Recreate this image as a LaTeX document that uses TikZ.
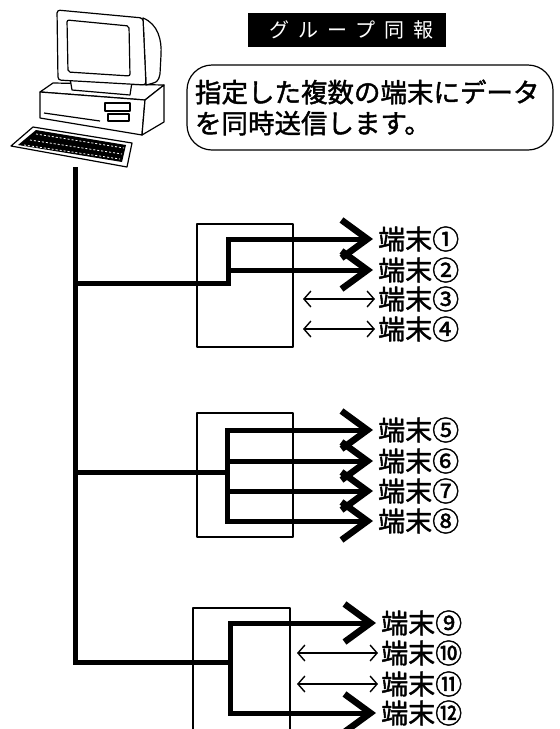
\documentclass[tikz,border=0pt]{standalone}
\usepackage{fontspec}
\setmainfont{Noto Sans CJK JP}[AutoFakeBold=1.6]
\usetikzlibrary{arrows.meta}

\begin{document}
\begin{tikzpicture}[x=1pt, y=-1pt, line join=round]
\tikzstyle{ink}=[line width=1.2pt]
\tikzstyle{frame}=[line width=1.4pt]
\tikzstyle{bus}=[line width=5pt]
\tikzstyle{send}=[bus, line join=miter, shorten >=4pt, -{Straight Barb[length=26pt, width=38pt, line width=6.5pt]}]
\tikzstyle{duplex}=[line width=1.4pt, shorten >=2pt, {Straight Barb[length=7pt, width=16pt]}-{Straight Barb[length=7pt, width=16pt]}]
\tikzstyle{term}=[anchor=west, inner sep=1pt, font=\fontsize{27}{29}\selectfont\bfseries]
\useasboundingbox (0,0) rectangle (560,729);

% computer: base unit, monitor, keyboard
\draw[ink, fill=white] (40,92) -- (53,83) -- (164,85) -- (145,100) -- cycle;
\draw[ink, fill=white] (40,92) -- (145,100) -- (142,135) -- (40,118) -- cycle;
\draw[ink, fill=white] (145,100) -- (164,85) -- (164,122) -- (142,135) -- cycle;
\draw[ink] (105,103) rectangle (130,111);
\draw[ink] (108,114) rectangle (129,121);
\draw[ink] (44,113) -- (100,121);
\draw[ink, fill=white] (70,78) -- (72,90) -- (130,95) -- (132,82);
\draw[ink, fill=white] (143,18) .. controls (158,24) and (162,40) .. (161,55)
  -- (160,74) .. controls (158,82) .. (146,85) -- cycle;
\draw[ink, fill=white, rounded corners=3pt] (57,10) -- (143,18) -- (146,85) -- (58,80) -- cycle;
\draw[ink, rounded corners=2pt] (67,20) -- (129,26) -- (130,76) -- (68,72) -- cycle;
\draw[ink, fill=white] (11,146) -- (33,127) -- (132,143) -- (127,167) -- cycle;
\fill (18,145) -- (36,130) -- (126,145) -- (122,162) -- cycle;
\draw[white, line width=0.8pt, dash pattern=on 2pt off 2pt] (30,140) -- (122,154);
\draw[white, line width=0.8pt, dash pattern=on 2pt off 2pt] (24,145) -- (120,159);
\draw[white, line width=0.8pt, dash pattern=on 2pt off 2pt] (36,134) -- (124,148);

% heading and note
\node[fill=black, text=white, minimum width=198pt, minimum height=34pt, inner sep=0pt] (title) at (347,29.5)
  {\fontsize{20}{22}\selectfont\addfontfeatures{LetterSpace=45}\kern9pt グループ同報};
\node[draw, ink, rounded corners=25pt, minimum width=366pt, minimum height=85pt, text width=350pt, align=left, inner xsep=8pt, inner ysep=3pt, font=\fontsize{26.5}{31}\selectfont\bfseries] (note) at (370,107.5) {指定した複数の端末にデータ\\を同時送信します。};

% exchange frames
\draw[frame] (197,224) rectangle (293,347);
\draw[frame] (197,413) rectangle (293,537);
\draw[frame] (193,729) |- (290,608) -- (290,729);

% terminals
\node[term] (t1) at (377,239) {端末①};
\node[term] (t2) at (377,270) {端末②};
\node[term] (t3) at (377,299) {端末③};
\node[term] (t4) at (377,329) {端末④};
\node[term] (t5) at (377,430) {端末⑤};
\node[term] (t6) at (377,461) {端末⑥};
\node[term] (t7) at (377,491) {端末⑦};
\node[term] (t8) at (377,521) {端末⑧};
\node[term] (t9) at (380,623) {端末⑨};
\node[term] (t10) at (380,653) {端末⑩};
\node[term] (t11) at (380,684) {端末⑪};
\node[term] (t12) at (380,713) {端末⑫};

\coordinate (pc) at (75,167);
\coordinate (j1) at (228,283);
\coordinate (j2) at (227,472);
\coordinate (j3) at (230,662);
\coordinate (d3) at (303,299);
\coordinate (d4) at (303,329);
\coordinate (d10) at (297,653);
\coordinate (d11) at (297,684);

% trunk line
\draw[bus, line join=miter] (pc) |- (j3);
\draw[bus] (pc |- j2) -- (j2);

% group 1
\draw[send] (pc |- j1) -- (j1) |- (t1.west);
\draw[send] (j1 |- t2.west) -- (t2.west);
\draw[duplex] (d3) -- (t3.west);
\draw[duplex] (d4) -- (t4.west);

% group 2
\draw[send] (j2) |- (t5.west);
\draw[send] (j2) |- (t8.west);
\draw[send] (j2 |- t6.west) -- (t6.west);
\draw[send] (j2 |- t7.west) -- (t7.west);

% group 3
\draw[send] (j3) |- (t9.west);
\draw[send] (j3) |- (t12.west);
\draw[duplex] (d10) -- (t10.west);
\draw[duplex] (d11) -- (t11.west);
\end{tikzpicture}
\end{document}
